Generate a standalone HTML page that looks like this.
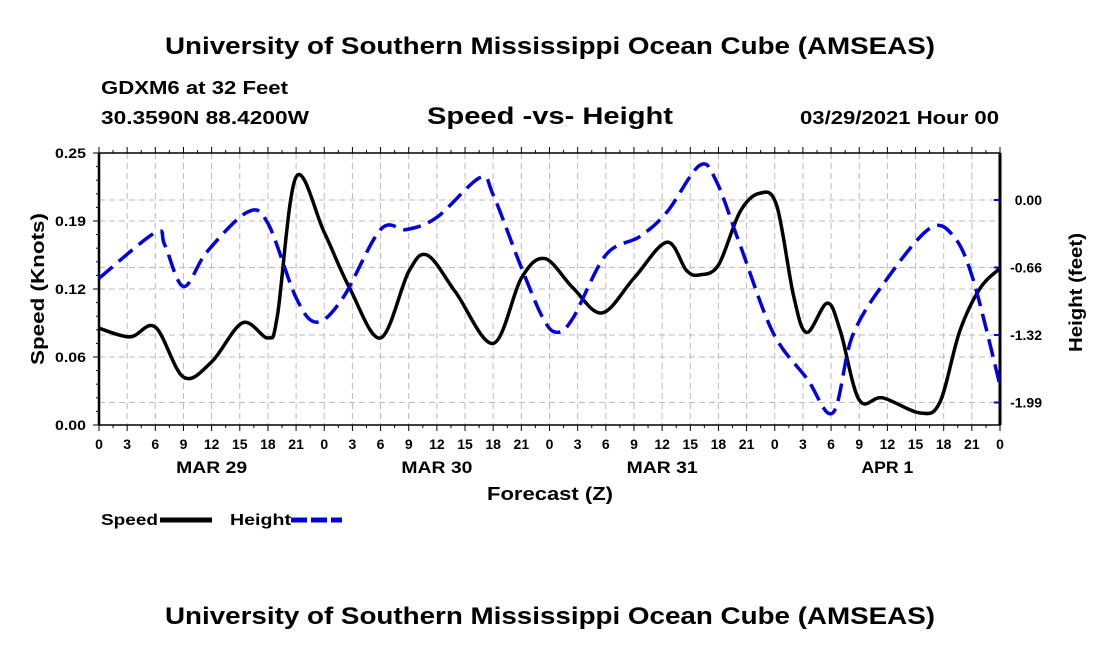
<!DOCTYPE html>
<html><head><meta charset="utf-8"><style>
body{margin:0;background:#fff;}
svg text{font-family:"Liberation Sans",sans-serif;font-weight:bold;fill:#000;}
</style></head><body>
<svg id="chart" width="1100" height="650" xmlns="http://www.w3.org/2000/svg">
<text x="165" y="54" font-size="24" textLength="770" lengthAdjust="spacingAndGlyphs">University of Southern Mississippi Ocean Cube (AMSEAS)</text>
<text x="101" y="94" font-size="18" textLength="187" lengthAdjust="spacingAndGlyphs">GDXM6 at 32 Feet</text>
<text x="101" y="124" font-size="18" textLength="208" lengthAdjust="spacingAndGlyphs">30.3590N  88.4200W</text>
<text x="427" y="124" font-size="24" textLength="246" lengthAdjust="spacingAndGlyphs">Speed -vs- Height</text>
<text x="800" y="124" font-size="18" textLength="199" lengthAdjust="spacingAndGlyphs">03/29/2021 Hour 00</text>
<g id="grid"></g>
<g id="axes"></g>
<g id="series"></g>
<text transform="translate(44,365) rotate(-90)" font-size="18" textLength="152" lengthAdjust="spacingAndGlyphs">Speed (Knots)</text>
<text transform="translate(1082,352) rotate(-90)" font-size="18" textLength="119" lengthAdjust="spacingAndGlyphs">Height (feet)</text>
<text x="487" y="500" font-size="18" textLength="126" lengthAdjust="spacingAndGlyphs">Forecast (Z)</text>
<g>
<text x="101" y="525" font-size="16" textLength="57" lengthAdjust="spacingAndGlyphs">Speed</text>
<line x1="160" y1="520" x2="212" y2="520" stroke="#000" stroke-width="5"/>
<text x="230" y="525" font-size="16" textLength="61" lengthAdjust="spacingAndGlyphs">Height</text>
<line x1="291" y1="520" x2="342" y2="520" stroke="#0000e0" stroke-width="5" stroke-dasharray="16,4"/>
</g>
<text x="165" y="624" font-size="24" textLength="770" lengthAdjust="spacingAndGlyphs">University of Southern Mississippi Ocean Cube (AMSEAS)</text>
</svg>
<script>
const speedHours=[0,3.3,6,9,12,15.3,18,19,21,24,26.7,30,33,35,38,42,45,47.5,50.5,53.6,57,60.5,62.6,64,66,68.3,70.4,72.2,74,75.4,77.6,79,81,83.5,87.5,89.6,91.7,93.9,96];
const speedValues=[0.089,0.081,0.090,0.044,0.058,0.094,0.080,0.100,0.228,0.177,0.126,0.080,0.141,0.156,0.122,0.075,0.135,0.153,0.126,0.103,0.135,0.168,0.142,0.138,0.147,0.196,0.213,0.202,0.119,0.085,0.112,0.086,0.023,0.025,0.011,0.021,0.086,0.126,0.144];
const heightHours=[0,6,7,9,11.5,15.8,18,21,23.2,26,30,32.8,36,40.6,42,44.9,47.3,48.8,50.5,54,57.6,60.5,64,65.8,68.3,71.8,75.4,78.2,80.3,84,88.5,91,93.1,96];
const heightValues=[-0.77,-0.32,-0.44,-0.85,-0.51,-0.12,-0.23,-0.96,-1.20,-0.96,-0.29,-0.29,-0.17,0.22,0.05,-0.64,-1.16,-1.30,-1.16,-0.54,-0.36,-0.12,0.34,0.18,-0.44,-1.30,-1.75,-2.09,-1.33,-0.77,-0.28,-0.35,-0.77,-1.82];
const leftTicks=[0,0.0625,0.125,0.1875,0.25];
const leftTickLabels=["0.00","0.06","0.12","0.19","0.25"];
const rightTicks=[0,-0.663,-1.326,-1.989];
const rightTickLabels=["0.00","-0.66","-1.32","-1.99"];
const hourLabels=["0","3","6","9","12","15","18","21"];
const dayLabels=["MAR 29","MAR 30","MAR 31","APR 1"];

const X0=99,X1=1000,Y0=153,Y1=425;
const xs=h=>X0+(X1-X0)*h/96;
const ysL=v=>Y1-(Y1-Y0)*v/0.25;
const ysR=v=>200-v*101.8;
const NS="http://www.w3.org/2000/svg";
function mk(tag,attrs,parent){const e=document.createElementNS(NS,tag);for(const k in attrs)e.setAttribute(k,attrs[k]);parent.appendChild(e);return e;}
const grid=document.getElementById('grid'),axes=document.getElementById('axes'),series=document.getElementById('series');
for(let h=3;h<96;h+=3){const g=mk('line',{x1:xs(h),x2:xs(h),y1:Y0,y2:Y1,stroke:'#bbb','stroke-dasharray':'6,4'},grid);

}
leftTicks.slice(1,-1).forEach(v=>{const g=mk('line',{x1:X0,x2:X1,y1:ysL(v),y2:ysL(v),stroke:'#bbb','stroke-dasharray':'6,4'},grid);

});
rightTicks.forEach(v=>{const g=mk('line',{x1:X0,x2:X1,y1:ysR(v),y2:ysR(v),stroke:'#bbb','stroke-dasharray':'6,4'},grid);

});
const frame=mk('rect',{x:X0,y:Y0,width:X1-X0,height:Y1-Y0,fill:'none',stroke:'#000','stroke-width':1.5},axes);


mk('line',{x1:X0,x2:X0,y1:Y0,y2:Y1,stroke:'#000','stroke-width':2.5},axes);
mk('line',{x1:X1,x2:X1,y1:Y0,y2:Y1,stroke:'#000','stroke-width':3},axes);
for(let h=0;h<=96;h+=1.5){const big=h%3===0;
mk('line',{x1:xs(h),x2:xs(h),y1:Y1,y2:Y1+(big?6:3),stroke:'#000'},axes);
mk('line',{x1:xs(h),x2:xs(h),y1:Y0,y2:Y0-(big?6:3),stroke:'#000'},axes);}
for(let i=0;i<=32;i++){const h=i*3;const t=mk('text',{x:xs(h),y:449,'font-size':14,'text-anchor':'middle'},axes);t.textContent=hourLabels[i%8];

}
dayLabels.forEach((d,i)=>{const t=mk('text',{x:xs(i*24+12),y:473,'font-size':17,'text-anchor':'middle',textLength:d.length>5?71:52,lengthAdjust:'spacingAndGlyphs'},axes);t.textContent=d;

});
for(let i=0;i<=20;i++){const v=i*0.0125;const big=i%5===0;mk('line',{x1:X0,x2:X0-(big?6:3),y1:ysL(v),y2:ysL(v),stroke:'#000'},axes);}
leftTicks.forEach((v,i)=>{const t=mk('text',{x:86,y:ysL(v)+5,'font-size':14,'text-anchor':'end',textLength:31,lengthAdjust:'spacingAndGlyphs'},axes);t.textContent=leftTickLabels[i];

});
rightTicks.forEach((v,i)=>{mk('line',{x1:X1,x2:X1-6,y1:ysR(v),y2:ysR(v),stroke:'#0000e0','stroke-width':2},axes);
const t=mk('text',{x:1042,y:ysR(v)+5,'font-size':14,'text-anchor':'end'},axes);t.textContent=rightTickLabels[i];

});
function spline(pts){let d=`M${pts[0][0]},${pts[0][1]}`;
for(let i=0;i<pts.length-1;i++){const p0=pts[Math.max(0,i-1)],p1=pts[i],p2=pts[i+1],p3=pts[Math.min(pts.length-1,i+2)];
d+=` C${p1[0]+(p2[0]-p0[0])/6},${p1[1]+(p2[1]-p0[1])/6} ${p2[0]-(p3[0]-p1[0])/6},${p2[1]-(p3[1]-p1[1])/6} ${p2[0]},${p2[1]}`;}return d;}
const sp=mk('path',{d:spline(speedHours.map((h,i)=>[xs(h),ysL(speedValues[i])])),fill:'none',stroke:'#000','stroke-width':3.5},series);


const hp=mk('path',{d:spline(heightHours.map((h,i)=>[xs(h),ysR(heightValues[i])])),fill:'none',stroke:'#0000e0','stroke-width':3.5,'stroke-dasharray':'18,8'},series);


</script>
</body></html>
